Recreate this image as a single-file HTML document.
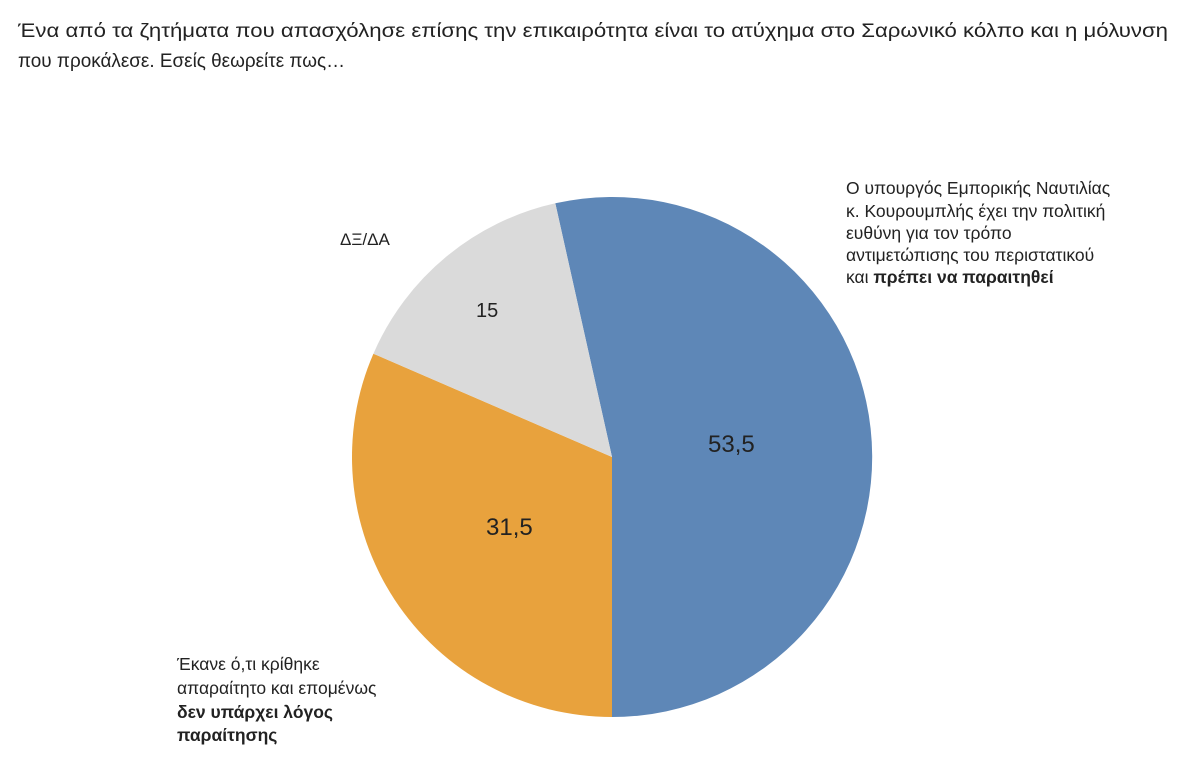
<!DOCTYPE html>
<html><head><meta charset="utf-8"><style>
html,body{margin:0;padding:0;background:#fff;}
svg{display:block;font-family:"Liberation Sans","DejaVu Sans",sans-serif;}
</style></head><body>
<svg width="1179" height="771" viewBox="0 0 1179 771" xmlns="http://www.w3.org/2000/svg">
<g fill="#222" font-size="19">
<text x="18" y="37" textLength="1150" lengthAdjust="spacingAndGlyphs">Ένα από τα ζητήματα που απασχόλησε επίσης την επικαιρότητα είναι το ατύχημα στο Σαρωνικό κόλπο και η μόλυνση</text>
<text x="18" y="67" textLength="327" lengthAdjust="spacingAndGlyphs">που προκάλεσε. Εσείς θεωρείτε πως…</text>
</g>
<path d="M612,457 L555.3,203.3 A260,260 0 1 1 612,717 Z" fill="#5e87b7"/>
<path d="M612,457 L612,717 A260,260 0 0 1 373.4,353.7 Z" fill="#e8a23d"/>
<path d="M612,457 L373.4,353.7 A260,260 0 0 1 555.3,203.3 Z" fill="#dadada"/>
<g fill="#222">
<text x="708" y="452" font-size="24">53,5</text>
<text x="486" y="535" font-size="24">31,5</text>
<text x="476" y="317" font-size="20">15</text>
</g>
<g fill="#222" font-size="17.5">
<text x="340" y="245" font-size="17">ΔΞ/ΔΑ</text>
<text x="846" y="194">Ο υπουργός Εμπορικής Ναυτιλίας</text>
<text x="846" y="217">κ. Κουρουμπλής έχει την πολιτική</text>
<text x="846" y="239">ευθύνη για τον τρόπο</text>
<text x="846" y="261">αντιμετώπισης του περιστατικού</text>
<text x="846" y="283">και <tspan font-weight="bold">πρέπει να παραιτηθεί</tspan></text>
<text x="177" y="670">Έκανε ό,τι κρίθηκε</text>
<text x="177" y="694">απαραίτητο και επομένως</text>
<text x="177" y="718" font-weight="bold">δεν υπάρχει λόγος</text>
<text x="177" y="741" font-weight="bold">παραίτησης</text>
</g>
</svg>
</body></html>
